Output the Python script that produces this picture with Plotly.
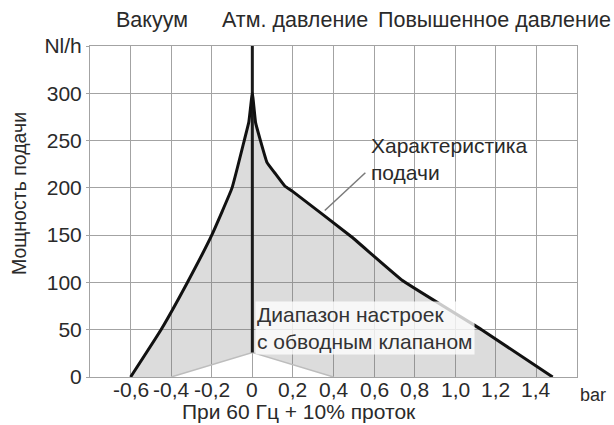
import plotly.graph_objects as go

# ---- data ----
left_x = [-0.6, -0.45, -0.32, -0.2, -0.1, -0.04, -0.017, 0.0]
left_y = [0, 50, 100, 150, 200, 250, 270, 300]
right_x = [0.0, 0.016, 0.04, 0.072, 0.11, 0.16, 0.2, 0.49, 0.74, 1.13, 1.48]
right_y = [300, 269, 250, 227, 216, 202, 196, 148, 102, 50, 0]
bypass_x = [0.4, 0.0, -0.4]
bypass_y = [0, 26, 0]
x_ticks = [-0.8, -0.6, -0.4, -0.2, 0.0, 0.2, 0.4, 0.6, 0.8, 1.0, 1.2, 1.4, 1.6]
x_labels = ["", "-0,6", "-0,4", "-0,2", "0", "0,2", "0,4", "0,6", "0,8", "1,0", "1,2", "1,4", ""]
y_ticks = [0, 50, 100, 150, 200, 250, 300, 350]
y_labels = ["0", "50", "100", "150", "200", "250", "300", "Nl/h"]

FONT = "Liberation Sans, Arial, sans-serif"
TXT = "#2a2a2a"
GRID = "#a3a3a3"

W, H = 614, 425
L, R, T, B = 90, 577, 46, 377          # plot area in window pixels
def px(x):
    return (x - L) / (R - L)
def py(y):
    return (B - y) / (B - T)

curve_x = left_x + right_x[1:]
curve_y = left_y + right_y[1:]
fill_x = curve_x + bypass_x + [left_x[0]]
fill_y = curve_y + bypass_y + [left_y[0]]

fig = go.Figure()
fig.add_trace(go.Scatter(x=fill_x, y=fill_y, mode="lines", fill="toself",
                         fillcolor="rgba(110,110,110,0.24)", line=dict(width=0),
                         hoverinfo="skip", showlegend=False))
fig.add_trace(go.Scatter(x=bypass_x, y=bypass_y, mode="lines",
                         line=dict(color="#bdbdbd", width=1.5), showlegend=False))
fig.add_trace(go.Scatter(x=[0, 0], y=[bypass_y[1], 350], mode="lines",
                         line=dict(color="#1a1a1a", width=3), showlegend=False))
fig.add_trace(go.Scatter(x=curve_x, y=curve_y, mode="lines",
                         line=dict(color="#111111", width=3, shape="spline", smoothing=0.3),
                         showlegend=False))

fig.add_shape(type="line", x0=0.357, y0=176, x1=0.557, y1=216,
              line=dict(color="#7a7a7a", width=1.5))

ann = []
def A(text, x, y, xa="center", ya="middle", size=21, xref="paper", **kw):
    ann.append(dict(text=text, x=x, y=y, xref=xref, yref="paper", xanchor=xa,
                    yanchor=ya, showarrow=False, font=dict(family=FONT, size=size, color=TXT), **kw))

A("Вакуум", px(152), py(20), size=21.5)
A("Атм. давление", px(295), py(20), size=21.5)
A("Повышенное давление", px(494), py(20), size=21.5)
A("Мощность подачи", px(19), py(194), size=19.5, textangle=-90)
A("bar", px(578), py(395), xa="left", size=18)
A("При 60 Гц + 10% проток", px(299), py(425), ya="bottom")
A("Характеристика<br>подачи", px(369), py(159), xa="left", align="left")
# x tick labels, placed just under the axis
for v, t in zip(x_ticks, x_labels):
    if t:
        A(t, v, py(389), xref="x")
ann.append(dict(text="Диапазон настроек<br>с обводным клапаном", x=0.012, y=80,
                xref="x", yref="y", xanchor="left", yanchor="top", align="left",
                showarrow=False, bgcolor="rgba(255,255,255,0.78)", borderpad=1,
                font=dict(family=FONT, size=21, color="#333333")))

fig.update_layout(
    width=W, height=H,
    margin=dict(l=L, r=W - R, t=T, b=H - B, autoexpand=False),
    paper_bgcolor="white", plot_bgcolor="white", showlegend=False,
    annotations=ann,
    xaxis=dict(range=[-0.8, 1.6], tickvals=x_ticks, ticktext=x_labels,
               showticklabels=False,
               showgrid=True, gridcolor=GRID, gridwidth=1, zeroline=False,
               showline=True, mirror=True, linecolor=GRID, linewidth=1,
               ticks="", automargin=False),
    yaxis=dict(range=[0, 350], tickvals=y_ticks, ticktext=y_labels,
               showgrid=True, gridcolor=GRID, gridwidth=1, zeroline=False,
               showline=True, mirror=True, linecolor=GRID, linewidth=1,
               ticks="outside", ticklen=3, tickcolor=GRID, automargin=False,
               tickfont=dict(family=FONT, size=21, color=TXT)),
)
fig.write_html("out.html", config={"displayModeBar": False},
               post_script="document.body.style.margin='0';")
